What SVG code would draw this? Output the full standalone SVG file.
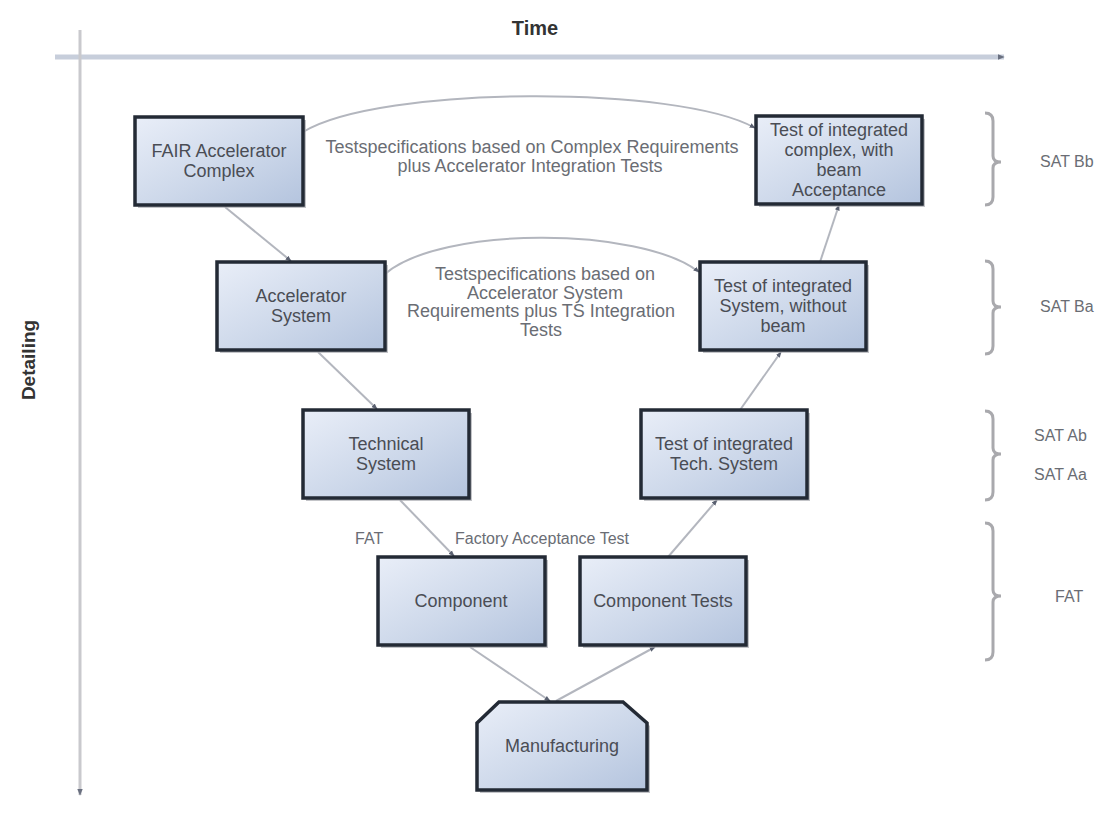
<svg xmlns="http://www.w3.org/2000/svg" width="1109" height="828" viewBox="0 0 1109 828">
<defs>
<linearGradient id="boxfill" x1="0" y1="0" x2="1" y2="1">
<stop offset="0" stop-color="#e9eef8"/>
<stop offset="0.55" stop-color="#cdd8ea"/>
<stop offset="1" stop-color="#b4c4de"/>
</linearGradient>
<marker id="arr" viewBox="0 0 10 10" refX="9" refY="5" markerWidth="6" markerHeight="6" orient="auto" markerUnits="userSpaceOnUse">
<path d="M0,1 L10,5 L0,9 z" fill="#5a6070"/>
</marker>
<marker id="axarr" viewBox="0 0 10 10" refX="9" refY="5" markerWidth="7" markerHeight="7" orient="auto" markerUnits="userSpaceOnUse">
<path d="M0,1 L10,5 L0,9 z" fill="#6a7080"/>
</marker>
</defs>
<style>
.box{fill:url(#boxfill);stroke:#232a35;stroke-width:3.5}
.shadow{fill:#a9abb0;opacity:0.7}
.t{font-family:"Liberation Sans",Arial,sans-serif;font-size:18px;fill:#4a4d55;text-anchor:middle}
.ann{font-family:"Liberation Sans",Arial,sans-serif;font-size:18px;fill:#6a6d74;text-anchor:middle}
.lbl{font-family:"Liberation Sans",Arial,sans-serif;font-size:16px;fill:#6a6d74}
.ttl{font-family:"Liberation Sans",Arial,sans-serif;font-weight:bold;fill:#333}
.con{fill:none;stroke:#b3b6be;stroke-width:2;marker-end:url(#arr)}
.brace{fill:none;stroke:#a9a9ad;stroke-width:3}
</style>
<rect width="1109" height="828" fill="#ffffff"/>

<g id="axes">
<line x1="55" y1="57" x2="1004" y2="57" stroke="#c7cedb" stroke-width="5" marker-end="url(#axarr)"/>
<line x1="80" y1="30" x2="80" y2="795" stroke="#c9c9cd" stroke-width="3" marker-end="url(#axarr)"/>
<text class="ttl" x="535" y="35" font-size="20" text-anchor="middle">Time</text>
<text class="ttl" x="0" y="0" font-size="19" text-anchor="middle" transform="translate(35,360) rotate(-90)">Detailing</text>
</g>

<g id="connectors">
<path class="con" d="M225,207 L291,261"/>
<path class="con" d="M318,352 L377,409"/>
<path class="con" d="M400,500 L454,556"/>
<path class="con" d="M470,647 L550,701"/>
<path class="con" d="M556,701 L655,647"/>
<path class="con" d="M668,557 L717,500"/>
<path class="con" d="M740,410 L781,352"/>
<path class="con" d="M820,262 L839,205"/>
<path class="con" d="M303,132 C380,85 680,85 755,128"/>
<path class="con" d="M385,274 C440,226 640,226 699,272"/>
</g>

<g id="annotations">
<text class="ann" x="532" y="153">Testspecifications based on Complex Requirements</text>
<text class="ann" x="530" y="172">plus Accelerator Integration Tests</text>
<text class="ann" x="545" y="280">Testspecifications based on</text>
<text class="ann" x="545" y="298.5">Accelerator System</text>
<text class="ann" x="541" y="317">Requirements plus TS Integration</text>
<text class="ann" x="541" y="335.5">Tests</text>
<text class="lbl" x="355" y="544" font-size="17">FAT</text>
<text class="lbl" x="455" y="544" font-size="17">Factory Acceptance Test</text>
</g>

<g id="node-fair">
<rect class="shadow" x="138" y="120" width="168" height="88"/>
<rect class="box" x="135" y="117" width="168" height="88"/>
<text class="t" x="219" y="157">FAIR Accelerator</text>
<text class="t" x="219" y="177">Complex</text>
</g>

<g id="node-test-complex">
<rect class="shadow" x="759" y="119" width="166" height="88"/>
<rect class="box" x="756" y="116" width="166" height="88"/>
<text class="t" x="839" y="136">Test of integrated</text>
<text class="t" x="839" y="156">complex, with</text>
<text class="t" x="839" y="176">beam</text>
<text class="t" x="839" y="196">Acceptance</text>
</g>

<g id="node-acc-system">
<rect class="shadow" x="220" y="265" width="168" height="88"/>
<rect class="box" x="217" y="262" width="168" height="88"/>
<text class="t" x="301" y="302">Accelerator</text>
<text class="t" x="301" y="322">System</text>
</g>

<g id="node-test-system">
<rect class="shadow" x="703" y="265" width="166" height="88"/>
<rect class="box" x="700" y="262" width="166" height="88"/>
<text class="t" x="783" y="292">Test of integrated</text>
<text class="t" x="783" y="312">System, without</text>
<text class="t" x="783" y="332">beam</text>
</g>

<g id="node-tech-system">
<rect class="shadow" x="306" y="413" width="166" height="88"/>
<rect class="box" x="303" y="410" width="166" height="88"/>
<text class="t" x="386" y="450">Technical</text>
<text class="t" x="386" y="470">System</text>
</g>

<g id="node-test-tech">
<rect class="shadow" x="644" y="413" width="166" height="88"/>
<rect class="box" x="641" y="410" width="166" height="88"/>
<text class="t" x="724" y="450">Test of integrated</text>
<text class="t" x="724" y="470">Tech. System</text>
</g>

<g id="node-component">
<rect class="shadow" x="381" y="560" width="167" height="88"/>
<rect class="box" x="378" y="557" width="167" height="88"/>
<text class="t" x="461" y="607">Component</text>
</g>

<g id="node-component-tests">
<rect class="shadow" x="583" y="560" width="166" height="88"/>
<rect class="box" x="580" y="557" width="166" height="88"/>
<text class="t" x="663" y="607">Component Tests</text>
</g>

<g id="node-manufacturing">
<path class="shadow" d="M480,726 L502,705 L626,705 L650,726 L650,793 L480,793 Z"/>
<path class="box" d="M477,723 L499,702 L623,702 L647,723 L647,790 L477,790 Z"/>
<text class="t" x="562" y="752">Manufacturing</text>
</g>

<g id="levels">
<path class="brace" d="M985,113 Q993,113 993,121 L993,156 Q993,162 1001,162 Q993,162 993,168 L993,197 Q993,205 985,205"/>
<path class="brace" d="M985,261 Q993,261 993,269 L993,301 Q993,307 1001,307 Q993,307 993,313 L993,346 Q993,354 985,354"/>
<path class="brace" d="M985,411 Q993,411 993,419 L993,448 Q993,454 1001,454 Q993,454 993,460 L993,492 Q993,500 985,500"/>
<path class="brace" d="M985,523 Q993,523 993,531 L993,590 Q993,596 1001,596 Q993,596 993,602 L993,652 Q993,660 985,660"/>
<text class="lbl" x="1040" y="167">SAT Bb</text>
<text class="lbl" x="1040" y="312">SAT Ba</text>
<text class="lbl" x="1034" y="441">SAT Ab</text>
<text class="lbl" x="1034" y="480">SAT Aa</text>
<text class="lbl" x="1055" y="602">FAT</text>
</g>
</svg>
